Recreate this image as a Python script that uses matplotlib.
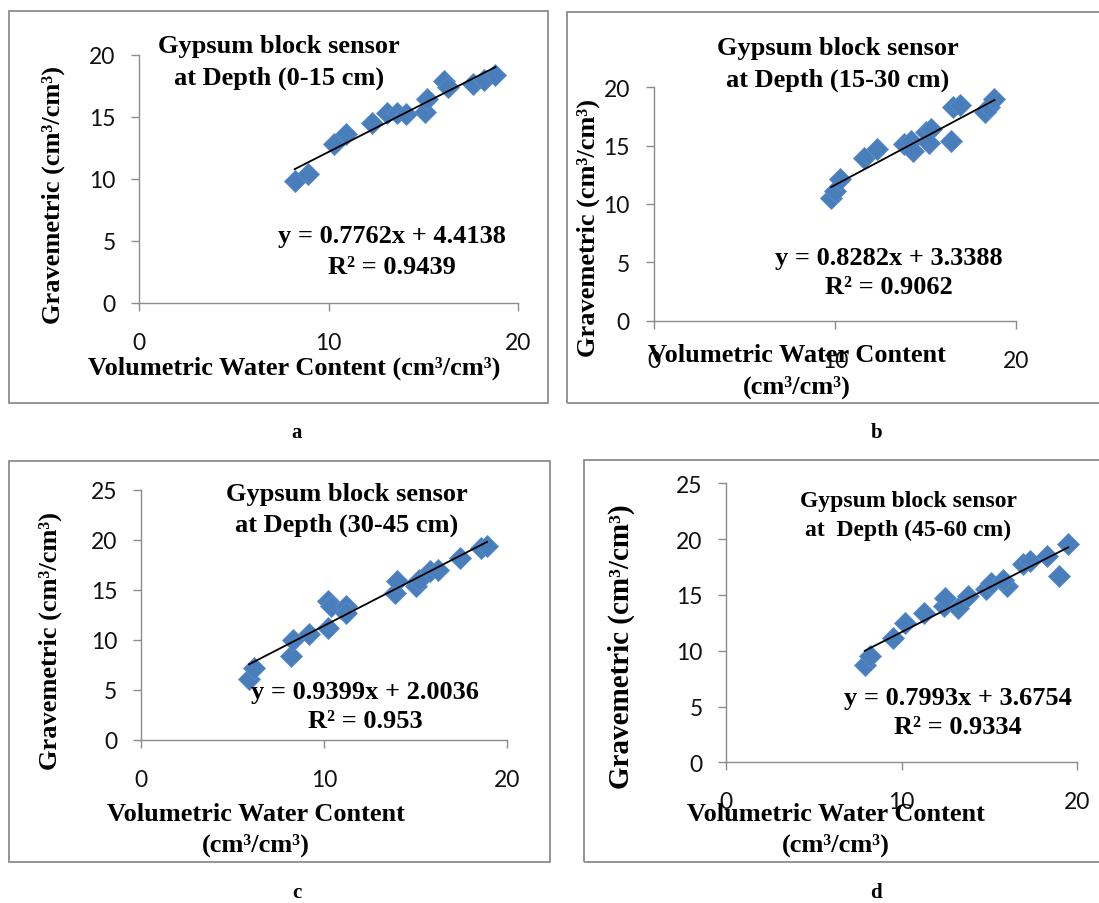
import numpy as np
import matplotlib
matplotlib.use("Agg")
import matplotlib.pyplot as plt
from matplotlib.patches import Rectangle

W, H = 1099, 904

# panel data
a_x = [8.2, 8.9, 10.3, 10.9, 12.3, 13.1, 13.6, 14.1, 15.1, 15.2, 16.1, 16.3, 17.6, 18.2, 18.8]
a_y = [9.8, 10.4, 12.8, 13.6, 14.5, 15.3, 15.3, 15.2, 15.4, 16.4, 17.9, 17.4, 17.6, 18.0, 18.4]

b_x = [9.8, 10.0, 10.3, 11.6, 12.3, 13.8, 14.2, 14.3, 15.0, 15.3, 15.2, 16.4, 16.5, 16.9, 18.3, 18.5, 18.8]
b_y = [10.5, 11.1, 12.1, 13.9, 14.7, 15.1, 15.4, 14.5, 16.2, 16.4, 15.2, 15.4, 18.3, 18.5, 17.9, 18.3, 19.0]

c_x = [5.9, 6.2, 8.2, 8.3, 9.2, 10.2, 10.2, 10.4, 11.2, 11.2, 13.9, 14.0, 15.0, 15.2, 15.8, 16.2, 17.4, 18.6, 18.9]
c_y = [6.1, 7.2, 8.4, 10.0, 10.6, 11.2, 13.9, 13.4, 13.4, 12.7, 14.7, 15.9, 15.4, 16.0, 16.9, 17.0, 18.2, 19.2, 19.4]

d_x = [7.9, 8.2, 9.5, 10.2, 11.3, 12.4, 12.5, 13.2, 13.8, 14.8, 15.1, 16.0, 15.8, 16.9, 17.3, 18.3, 19.0, 19.5]
d_y = [8.7, 9.5, 11.1, 12.5, 13.4, 14.0, 14.7, 13.8, 14.9, 15.5, 16.1, 15.8, 16.3, 17.8, 18.0, 18.5, 16.7, 19.6]

slopes = [0.7762, 0.8282, 0.9399, 0.7993]
intercepts = [4.4138, 3.3388, 2.0036, 3.6754]
r2 = ["0.9439", "0.9062", "0.953", "0.9334"]
depths = ["at Depth (0-15 cm)", "at Depth (15-30 cm)", "at Depth (30-45 cm)", "at  Depth (45-60 cm)"]
y_max = [20, 20, 25, 25]
panel_letters = ["a", "b", "c", "d"]

SERIF = "Liberation Serif"
TICKFONT = "Lato"
BLUE = "#4A7EBB"
GRAY = "#8C8C8C"


def fx(x):
    return x / W


def fy(y):
    return 1 - y / H


def ftext(x, y, s, **kw):
    kw.setdefault("family", SERIF)
    kw.setdefault("weight", "bold")
    kw.setdefault("ha", "center")
    kw.setdefault("va", "center")
    fig.text(fx(x), fy(y), s, **kw)


fig = plt.figure(figsize=(W / 100, H / 100), dpi=100)
fig.patch.set_facecolor("white")

# outer frames (pixel coords: left, top, right, bottom)
frames = [(9, 12, 548, 404), (567, 13, 1110, 404), (9, 462, 550, 863), (584, 461, 1110, 863)]
for l, t, r, b in frames:
    fig.patches.append(Rectangle((fx(l), fy(b)), fx(r - l), (b - t) / H,
                                 transform=fig.transFigure, fill=False,
                                 edgecolor=GRAY, linewidth=1.3))

# axes rect in pixels: x at 0, x at 20, y at 0, y at top
axes_px = [(139.3, 518.2, 304, 55.7), (653.5, 1016.2, 321.7, 88.3),
           (141, 507.1, 741, 490.5), (726.2, 1077, 763.3, 484.3)]
xs = [a_x, b_x, c_x, d_x]
ys = [a_y, b_y, c_y, d_y]

for i, (x0, x20, y0, ytop) in enumerate(axes_px):
    ax = fig.add_axes([fx(x0), fy(y0), (x20 - x0) / W, (y0 - ytop) / H])
    ax.set_xlim(0, 20)
    ax.set_ylim(0, y_max[i])
    ax.set_xticks([0, 10, 20])
    ax.set_yticks(np.arange(0, y_max[i] + 1, 5))
    for s in ["top", "right"]:
        ax.spines[s].set_visible(False)
    for s in ["left", "bottom"]:
        ax.spines[s].set_color(GRAY)
        ax.spines[s].set_linewidth(1.0)
    ax.tick_params(axis="both", colors=GRAY, labelcolor="#111111",
                   length=6, width=1.0, direction="out")
    ax.tick_params(axis="x", pad=15)
    ax.tick_params(axis="y", pad=11)
    for lab in ax.get_xticklabels() + ax.get_yticklabels():
        lab.set_family(TICKFONT)
        lab.set_fontsize(16.5)
    ax.patch.set_alpha(0)

    px = np.array(xs[i])
    py = np.array(ys[i])
    ax.plot(px, py, linestyle="none", marker="D", markersize=11,
            color=BLUE, markeredgecolor="#5B8CC8", markeredgewidth=0.6, clip_on=False)
    lx = np.array([px.min(), px.max()])
    ax.plot(lx, slopes[i] * lx + intercepts[i], color="black", linewidth=1.3)

# titles
title_pos = [(279, 47, 78, 19), (838, 48, 80, 19), (347, 495, 525, 19), (908, 502, 530, 17)]
for i, (x, y1, y2, fs) in enumerate(title_pos):
    ftext(x, y1, "Gypsum block sensor", fontsize=fs)
    ftext(x, y2, depths[i], fontsize=fs)

# equations
eq_pos = [(392, 237, 267), (889, 258, 288), (365, 693, 722), (958, 698, 728)]
for i, (x, y1, y2) in enumerate(eq_pos):
    ftext(x, y1, f"y = {slopes[i]}x + {intercepts[i]}", fontsize=19)
    ftext(x, y2, f"R² = {r2[i]}", fontsize=19)

# y labels
ylab_pos = [(53, 195, 19), (588, 228, 19), (50, 641, 19), (621, 647, 21)]
for x, y, fs in ylab_pos:
    ftext(x, y, "Gravemetric (cm³/cm³)", fontsize=fs, rotation=90)

# x labels
ftext(294, 368, "Volumetric Water Content (cm³/cm³)", fontsize=19)
xlab_pos = [(797, 355, 387), (256, 815, 845), (836, 815, 845)]
for x, y1, y2 in xlab_pos:
    ftext(x, y1, "Volumetric Water Content", fontsize=19)
    ftext(x, y2, "(cm³/cm³)", fontsize=19)

# panel letters
letter_pos = [(297, 433), (877, 433), (297, 893), (876, 893)]
for (x, y), s in zip(letter_pos, panel_letters):
    ftext(x, y, s, fontsize=15)

fig.savefig("out.png", dpi=100)
